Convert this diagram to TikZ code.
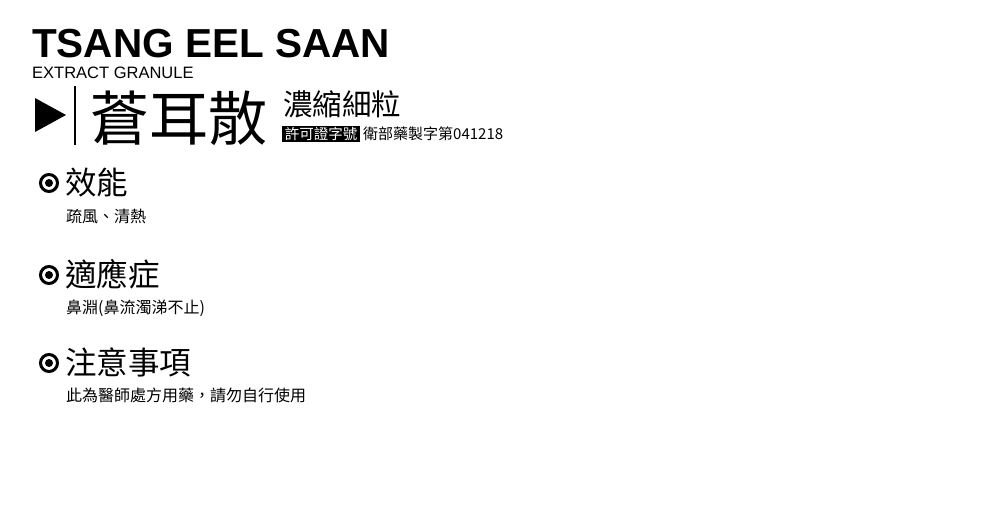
\documentclass[tikz,border=0pt]{standalone}
\usepackage{fontspec}
\setmainfont{Liberation Sans}
\newfontfamily\cjk{Noto Sans CJK TC}
\usetikzlibrary{positioning,shapes}
\tikzstyle{title}     = [anchor=base west, inner sep=0pt, font=\fontsize{40.5}{40.5}\selectfont\bfseries]
\tikzstyle{subtitle}  = [anchor=base west, inner sep=0pt, font=\fontsize{16.5}{16.5}\selectfont]
\tikzstyle{head}      = [anchor=base west, inner sep=0pt, font=\cjk\fontsize{31.5}{31.5}\selectfont]
\tikzstyle{body}      = [anchor=base west, inner sep=0pt, font=\cjk\fontsize{16}{16}\selectfont]
\tikzstyle{ring}      = [circle, draw, line width=3pt, minimum size=17pt, inner sep=0pt]
\tikzstyle{dot}       = [circle, fill, minimum size=8pt, inner sep=0pt]

\begin{document}
\begin{tikzpicture}[x=1pt,y=-1pt]
        \useasboundingbox (0,0) rectangle (1000,527);

        \node[title] (name) at (32,58) {TSANG EEL SAAN};
        \node[subtitle] (kind) at (32,78) {EXTRACT GRANULE};

        \fill (35,98) -- (66,115) -- (35,132) -- cycle;
        \draw[line width=1.5pt] (75,86) -- (75,145);

        \node[anchor=base west, inner sep=0pt, font=\cjk\fontsize{59}{59}\selectfont] (herb) at (90,140) {蒼耳散};
        \node[anchor=base west, inner sep=0pt, font=\cjk\fontsize{29.5}{29.5}\selectfont] (form) at (283,115) {濃縮細粒};
        \node[fill=black, text=white, inner xsep=2.5pt, inner ysep=0pt, minimum height=16pt, font=\cjk\fontsize{14.5}{14.5}\selectfont] (lic) at (321,133.5) {許可證字號};
        \node[anchor=base west, inner sep=0pt, font=\cjk\fontsize{15}{15}\selectfont] (licno) at (363,139) {衛部藥製字第041218};

        \node[ring] (ringA) at (49,183) {};
        \node[dot] (dotA) at (ringA) {};
        \node[head] (headA) at (65,194) {效能};
        \node[body] (bodyA) at (66,222) {疏風、清熱};

        \node[ring] (ringB) at (49,275) {};
        \node[dot] (dotB) at (ringB) {};
        \node[head] (headB) at (65,286) {適應症};
        \node[body] (bodyB) at (66,313.5) {鼻淵(鼻流濁涕不止)};

        \node[ring] (ringC) at (49,363) {};
        \node[dot] (dotC) at (ringC) {};
        \node[head] (headC) at (65,374.5) {注意事項};
        \node[body] (bodyC) at (66,401) {此為醫師處方用藥，請勿自行使用};
    \end{tikzpicture}
\end{document}
